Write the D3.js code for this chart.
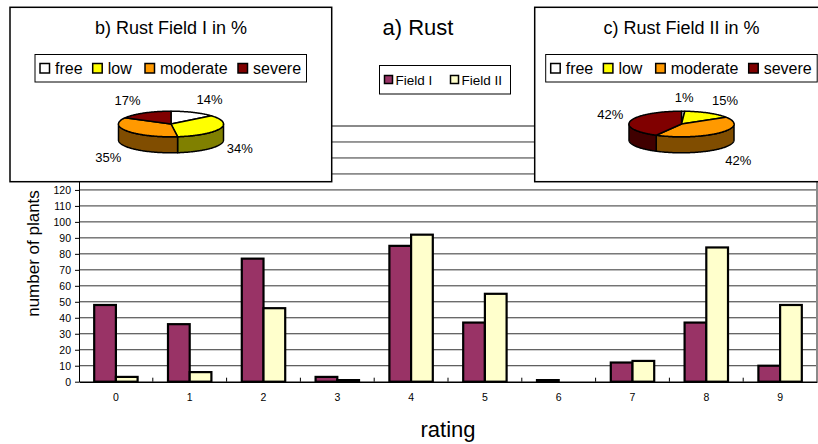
<!DOCTYPE html>
<html>
<head>
<meta charset="utf-8">
<script src="https://cdn.jsdelivr.net/npm/d3@7"></script>
<style>
  html, body { margin: 0; padding: 0; background: #fff; }
  svg { display: block; font-family: "Liberation Sans", Arial, sans-serif; }
</style>
</head>
<body>
<svg id="chart" width="818" height="444"></svg>
<script>
// Rust ratings (0 = free ... 9 = most severe) per field
const categories = ["0", "1", "2", "3", "4", "5", "6", "7", "8", "9"];
const seriesNames = ["Field I", "Field II"];
const fieldI  = [48, 36, 77, 3, 85, 37, 1, 12, 37, 10];
const fieldII = [3, 6, 46, 1, 92, 55, 0, 13, 84, 48];
const yTicks = [0, 10, 20, 30, 40, 50, 60, 70, 80, 90, 100, 110, 120, 130, 140, 150, 160];

// Severity classes, share of plants in %
const severityClasses = ["free", "low", "moderate", "severe"];
const rustFieldIPct  = [14, 34, 35, 17];
const rustFieldIIPct = [1, 15, 42, 42];

const seriesColors = ["#993366", "#FFFFCC"];
const severityColors = ["#FFFFFF", "#FFFF00", "#FF9900", "#800000"];

const svg = d3.select("#chart");
svg.append("rect").attr("width", 818).attr("height", 444).attr("fill", "#fff");

// ---------- bar chart ----------
const plot = { left: 79, right: 817, top: 126, bottom: 381.7 };
const y = d3.scaleLinear().domain([0, 160]).range([plot.bottom, plot.top]);
const x = d3.scaleBand().domain(categories).range([plot.left, plot.right]).padding(0);
const xs = d3.scaleBand().domain(seriesNames).range([0, x.bandwidth()])
  .paddingInner(0).paddingOuter(0.7);

// horizontal gridlines
svg.append("g").selectAll("line")
  .data(yTicks.filter(v => v > 0 && v < 160))
  .join("line")
  .attr("x1", plot.left).attr("x2", plot.right)
  .attr("y1", d => y(d)).attr("y2", d => y(d))
  .attr("stroke", "#333").attr("stroke-width", 1);

// plot area frame (top and right)
svg.append("path")
  .attr("d", `M${plot.left},${y(160)}H${plot.right}V${plot.bottom}`)
  .attr("fill", "none").attr("stroke", "#8a8a8a").attr("stroke-width", 2);

// bars
const series = [fieldI, fieldII];
const barData = [];
categories.forEach((c, i) => {
  seriesNames.forEach((s, j) => {
    barData.push({ cat: c, name: s, value: series[j][i], color: seriesColors[j] });
  });
});
svg.append("g").selectAll("rect")
  .data(barData.filter(d => d.value > 0))
  .join("rect")
  .attr("x", d => x(d.cat) + xs(d.name))
  .attr("y", d => y(d.value))
  .attr("width", xs.bandwidth())
  .attr("height", d => y(0) - y(d.value))
  .attr("fill", d => d.color)
  .attr("stroke", "#000").attr("stroke-width", 2.2);

// y axis
const gy = svg.append("g")
  .attr("transform", `translate(${plot.left},0)`)
  .call(d3.axisLeft(y).tickValues(yTicks).tickSize(4).tickSizeOuter(0).tickPadding(4));
gy.selectAll("text").attr("font-size", "10.5px").attr("fill", "#000")
  .attr("font-family", "Liberation Sans, Arial, sans-serif");
gy.selectAll("line, path").attr("stroke", "#000");

// x axis
const gx = svg.append("g")
  .attr("transform", `translate(0,${plot.bottom})`)
  .call(d3.axisBottom(x).tickSize(0).tickSizeOuter(0).tickPadding(12));
gx.selectAll("text").attr("font-size", "10.5px").attr("fill", "#000")
  .attr("font-family", "Liberation Sans, Arial, sans-serif");
gx.select(".domain").attr("stroke", "#000").attr("stroke-width", 1.5);
// category boundary ticks, pointing into the plot
gx.append("g").selectAll("line")
  .data(categories.slice(1))
  .join("line")
  .attr("x1", d => x(d)).attr("x2", d => x(d))
  .attr("y1", 0).attr("y2", -4)
  .attr("stroke", "#000");

// axis titles
svg.append("text")
  .attr("x", (plot.left + plot.right) / 2).attr("y", 437)
  .attr("text-anchor", "middle").attr("font-size", "22px")
  .text("rating");
svg.append("text")
  .attr("transform", `translate(39,253.5) rotate(-90)`)
  .attr("text-anchor", "middle").attr("font-size", "17px")
  .text("number of plants");

// chart title and series legend
svg.append("text")
  .attr("x", 418).attr("y", 35)
  .attr("text-anchor", "middle").attr("font-size", "22px")
  .text("a) Rust");

const lg = svg.append("g");
lg.append("rect").attr("x", 379.5).attr("y", 65.5).attr("width", 131).attr("height", 28.5)
  .attr("fill", "#fff").attr("stroke", "#000").attr("stroke-width", 1);
const lgOffsets = [5, 71];
seriesNames.forEach((s, j) => {
  const ox = 379.5 + lgOffsets[j];
  lg.append("rect").attr("x", ox).attr("y", 75.5).attr("width", 8).attr("height", 8)
    .attr("fill", seriesColors[j]).attr("stroke", "#000").attr("stroke-width", 1.5);
  lg.append("text").attr("x", ox + 11).attr("y", 84.5).attr("font-size", "13.5px").text(s);
});

// ---------- 3D pie insets ----------
function shade(c) {
  const k = d3.rgb(c);
  return d3.rgb(k.r * 0.5, k.g * 0.5, k.b * 0.5).toString();
}

function pieInset(opts) {
  const g = svg.append("g");
  g.append("rect").attr("x", opts.box[0]).attr("y", opts.box[1])
    .attr("width", opts.box[2]).attr("height", opts.box[3])
    .attr("fill", "#fff").attr("stroke", "#000").attr("stroke-width", 1.5);

  g.append("text").attr("x", opts.cx).attr("y", 33.5)
    .attr("text-anchor", "middle").attr("font-size", "18px").text(opts.title);

  // legend
  const lx = opts.legendX, ly = 54.5;
  g.append("rect").attr("x", lx).attr("y", ly).attr("width", 271.5).attr("height", 27.5)
    .attr("fill", "#fff").attr("stroke", "#000").attr("stroke-width", 1);
  const offsets = [5, 57.7, 110, 203];
  severityClasses.forEach((name, i) => {
    g.append("rect").attr("x", lx + offsets[i]).attr("y", ly + 9)
      .attr("width", 9.5).attr("height", 9.5)
      .attr("fill", severityColors[i]).attr("stroke", "#000").attr("stroke-width", 1.5);
    g.append("text").attr("x", lx + offsets[i] + 15).attr("y", ly + 19)
      .attr("font-size", "16px").text(name);
  });

  // pie body
  const cx = opts.cx, cy = 124, rx = 52.5, ry = 12.8, depth = 16;
  const arcs = d3.pie().sort(null)(opts.values);
  const pt = (a, dy) => [cx + rx * Math.sin(a), cy - ry * Math.cos(a) + dy];
  const arcPts = (a0, a1, dy) => {
    const n = Math.max(2, Math.ceil((a1 - a0) / 0.02));
    return d3.range(n + 1).map(k => pt(a0 + (a1 - a0) * k / n, dy));
  };
  const line = d3.line();

  // front wall segments
  arcs.forEach((a, i) => {
    const lo = Math.max(a.startAngle, Math.PI / 2);
    const hi = Math.min(a.endAngle, 3 * Math.PI / 2);
    if (lo >= hi) return;
    const pts = arcPts(lo, hi, 0).concat(arcPts(lo, hi, depth).reverse());
    g.append("path").attr("d", line(pts) + "Z")
      .attr("fill", shade(severityColors[i]))
      .attr("stroke", "#000").attr("stroke-width", 1.5).attr("stroke-linejoin", "round");
  });
  // top faces
  arcs.forEach((a, i) => {
    if (a.endAngle - a.startAngle <= 0) return;
    const pts = [[cx, cy]].concat(arcPts(a.startAngle, a.endAngle, 0));
    g.append("path").attr("d", line(pts) + "Z")
      .attr("fill", severityColors[i])
      .attr("stroke", "#000").attr("stroke-width", 1.5).attr("stroke-linejoin", "round");
  });

  // percentage labels placed outside each slice
  const clamp = v => Math.max(-1, Math.min(1, v));
  arcs.forEach(a => {
    const m = (a.startAngle + a.endAngle) / 2;
    const s = Math.sin(m), c = Math.cos(m);
    const t = g.append("text").attr("font-size", "13px").attr("text-anchor", "middle")
      .text(a.data + "%");
    const w = t.node().getComputedTextLength();
    const lxp = cx + (rx + 7.5) * s + (w / 2) * clamp(3 * s);
    const lyp = cy - (ry + 9) * c + (c < 0 ? depth * clamp(-2 * c) : 0) - 5 * clamp(3 * c);
    t.attr("x", lxp).attr("y", lyp + 4.6);
  });
}

pieInset({ box: [10, 7.3, 321.7, 174.4], cx: 171, legendX: 35, title: "b) Rust Field I in %", values: rustFieldIPct });
pieInset({ box: [534.7, 7.3, 330, 174.4], cx: 681.5, legendX: 545.7, title: "c) Rust Field II in %", values: rustFieldIIPct });
</script>
</body>
</html>
